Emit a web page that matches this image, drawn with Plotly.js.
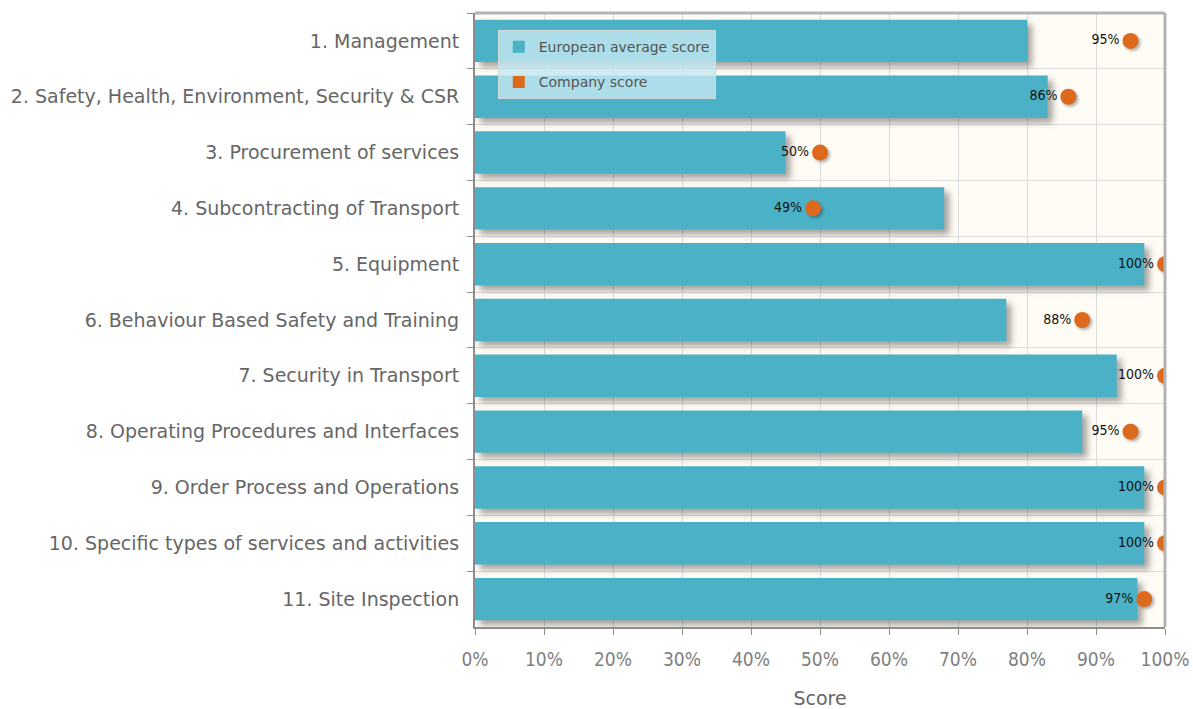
<!DOCTYPE html>
<html>
<head>
<meta charset="utf-8">
<script src="https://cdn.plot.ly/plotly-3.0.1.min.js"></script>
<style>
  html, body { margin: 0; padding: 0; background: #fff; }
  #chart { width: 1193px; height: 709px; }
  .barlayer .point path { filter: drop-shadow(5px 5px 3px rgba(0,0,0,0.35)); }
  .scatterlayer .points path { filter: drop-shadow(2px 2px 1.5px rgba(0,0,0,0.3)); }
</style>
</head>
<body>
<div id="chart"></div>
<script>
const categories = [
  "1. Management",
  "2. Safety, Health, Environment, Security & CSR",
  "3. Procurement of services",
  "4. Subcontracting of Transport",
  "5. Equipment",
  "6. Behaviour Based Safety and Training",
  "7. Security in Transport",
  "8. Operating Procedures and Interfaces",
  "9. Order Process and Operations",
  "10. Specific types of services and activities",
  "11. Site Inspection"
];
const europeanAverage = [80, 83, 45, 68, 97, 77, 93, 88, 97, 97, 96];
const companyScore = [95, 86, 50, 49, 100, 88, 100, 95, 100, 100, 97];
const xTickValues = [0, 10, 20, 30, 40, 50, 60, 70, 80, 90, 100];
const xTickLabels = ["0%", "10%", "20%", "30%", "40%", "50%", "60%", "70%", "80%", "90%", "100%"];

const labelFont = "'DejaVu Sans', sans-serif";
const condFont = "'DejaVu Sans Condensed', 'DejaVu Sans', sans-serif";

const traces = [
  {
    type: "bar",
    orientation: "h",
    name: "European average score",
    legendgroup: "a",
    y: categories,
    x: europeanAverage,
    width: 0.76,
    marker: { color: "#4ab1c6" },
    hoverinfo: "x+y"
  },
  {
    type: "scatter",
    mode: "markers+text",
    name: "Company score",
    showlegend: false,
    y: categories,
    x: companyScore,
    text: companyScore.map(v => v + "%"),
    textposition: "middle left",
    textfont: { family: condFont, size: 14, color: "#111" },
    marker: { color: "#dd6a1c", size: 16 },
    cliponaxis: true
  },
  {
    type: "bar",
    orientation: "h",
    name: "Company score",
    legendgroup: "b",
    y: [null],
    x: [null],
    marker: { color: "#dd6a1c" },
    hoverinfo: "skip"
  }
];

const layout = {
  width: 1193,
  height: 709,
  margin: { l: 475, r: 28, t: 13, b: 82 },
  paper_bgcolor: "#ffffff",
  plot_bgcolor: "#fffcf5",
  barmode: "overlay",
  showlegend: true,
  legend: {
    x: 0.033, y: 0.972, xanchor: "left", yanchor: "top",
    bgcolor: "rgba(196,232,241,0.8)",
    bordercolor: "#cfd8da", borderwidth: 1,
    font: { family: labelFont, size: 14, color: "#555" },
    itemwidth: 30,
    tracegroupgap: 14
  },
  xaxis: {
    range: [0, 100],
    tickvals: xTickValues,
    ticktext: xTickLabels,
    showgrid: true,
    gridcolor: "#dcdcdc",
    gridwidth: 1,
    zeroline: false,
    showline: true,
    linecolor: "#8c8c8c",
    linewidth: 2,
    ticks: "outside",
    ticklen: 6,
    tickcolor: "#8c8c8c",
    tickfont: { family: condFont, size: 19, color: "#808080" },
    ticklabelstandoff: 8,
    title: { text: "Score", font: { family: labelFont, size: 19, color: "#666" }, standoff: 24 },
    fixedrange: true
  },
  yaxis: {
    type: "category",
    categoryarray: categories,
    categoryorder: "array",
    range: [10.5, -0.5],
    autorange: false,
    tickson: "boundaries",
    showgrid: true,
    gridcolor: "#dcdcdc",
    gridwidth: 1,
    showline: true,
    linecolor: "#8c8c8c",
    linewidth: 2,
    ticks: "outside",
    ticklen: 6,
    tickcolor: "#8c8c8c",
    tickfont: { family: labelFont, size: 19, color: "#666" },
    ticklabelstandoff: 10,
    fixedrange: true
  },
  shapes: [
    { type: "line", xref: "paper", yref: "paper", x0: 0, x1: 1, y0: 1, y1: 1,
      line: { color: "#b4b4b4", width: 3 }, layer: "above" },
    { type: "line", xref: "paper", yref: "paper", x0: 1, x1: 1, y0: 0, y1: 1,
      line: { color: "#b4b4b4", width: 3 }, layer: "above" }
  ]
};

Plotly.newPlot("chart", traces, layout, { displayModeBar: false, staticPlot: false });
</script>
</body>
</html>
